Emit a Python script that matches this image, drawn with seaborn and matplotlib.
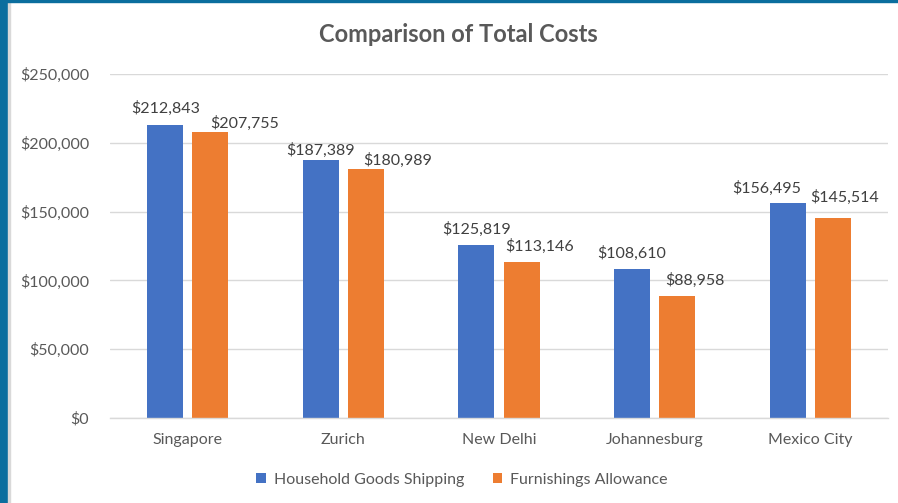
import matplotlib
matplotlib.use("Agg")
import matplotlib.pyplot as plt
import seaborn as sns
import pandas as pd
from matplotlib.patches import Rectangle
from matplotlib.ticker import FuncFormatter

cities = ["Singapore", "Zurich", "New Delhi", "Johannesburg", "Mexico City"]
household = [212843, 187389, 125819, 108610, 156495]
furnishings = [207755, 180989, 113146, 88958, 145514]
series = ["Household Goods Shipping", "Furnishings Allowance"]
yticks = [0, 50000, 100000, 150000, 200000, 250000]

# label nudges (pixels: dx, gap above bar) mimicking the reference's label placement
label_nudge = {
    series[0]: [(0, 9), (0, 2), (0, 8), (0, 8), (-21, 7)],
    series[1]: [(34, 1), (32, 1), (18, 8), (18, 8), (12, 13)],
}

df = pd.DataFrame({
    "City": cities * 2,
    "Series": [series[0]] * len(cities) + [series[1]] * len(cities),
    "Cost": household + furnishings,
})

sns.set_theme(style="white")
plt.rcParams["font.family"] = ["Lato", "DejaVu Sans"]

fig = plt.figure(figsize=(8.98, 5.03), dpi=100)
ax = fig.add_axes([110 / 898, 1 - 418 / 503, 778 / 898, 344 / 503])

palette = {series[0]: "#4472C4", series[1]: "#ED7D31"}
sns.barplot(data=df, x="City", y="Cost", hue="Series", order=cities,
            hue_order=series, palette=palette, width=0.58, gap=0.2,
            saturation=1, linewidth=0, ax=ax, legend=True)

ax.set_ylim(0, 250000)
ax.set_yticks(yticks)
ax.yaxis.set_major_formatter(FuncFormatter(lambda v, p: f"${v:,.0f}"))
ax.grid(axis="y", color="#D9D9D9", linewidth=1)
ax.set_axisbelow(True)
for s in ["top", "right", "left"]:
    ax.spines[s].set_visible(False)
ax.spines["bottom"].set_color("#D9D9D9")
ax.spines["bottom"].set_linewidth(1)
ax.set_xlabel("")
ax.set_ylabel("")
ax.tick_params(axis="both", length=0, labelsize=11.5, labelcolor="#595959")
ax.tick_params(axis="y", pad=15)
ax.tick_params(axis="x", pad=11)

px = 0.72  # points per pixel at dpi 100
for cont, s in zip(ax.containers, series):
    for bar, v, (dx, dy) in zip(cont.patches, cont.datavalues, label_nudge[s]):
        ax.annotate(f"${v:,.0f}", xy=(bar.get_x() + bar.get_width() / 2, bar.get_height()),
                    xytext=(dx * px, dy * px), textcoords="offset points",
                    ha="center", va="bottom", fontsize=11.5, color="#404040")

fig.text(458 / 898, 1 - 35 / 503, "Comparison of Total Costs", fontsize=17,
         fontweight="bold", color="#595959", ha="center", va="center")

ax.get_legend().remove()
handles, labels = ax.get_legend_handles_labels()
leg = fig.legend(handles, labels, loc="center", bbox_to_anchor=(462 / 898, 1 - 480 / 503),
                 ncol=2, frameon=False, fontsize=11.5, handlelength=0.6, handleheight=0.6,
                 columnspacing=1.8, handletextpad=0.5)
for t in leg.get_texts():
    t.set_color("#595959")

fig.patches.append(Rectangle((0, 0), 8 / 898, 1, transform=fig.transFigure,
                             color="#0B6E9E", zorder=10))
fig.patches.append(Rectangle((8 / 898, 0), 2 / 898, 1, transform=fig.transFigure,
                             color="#D9D9D9", zorder=10))
fig.patches.append(Rectangle((0, 1 - 2 / 503), 1, 2 / 503, transform=fig.transFigure,
                             color="#0B6E9E", zorder=10))

fig.savefig("out.png", dpi=100)
